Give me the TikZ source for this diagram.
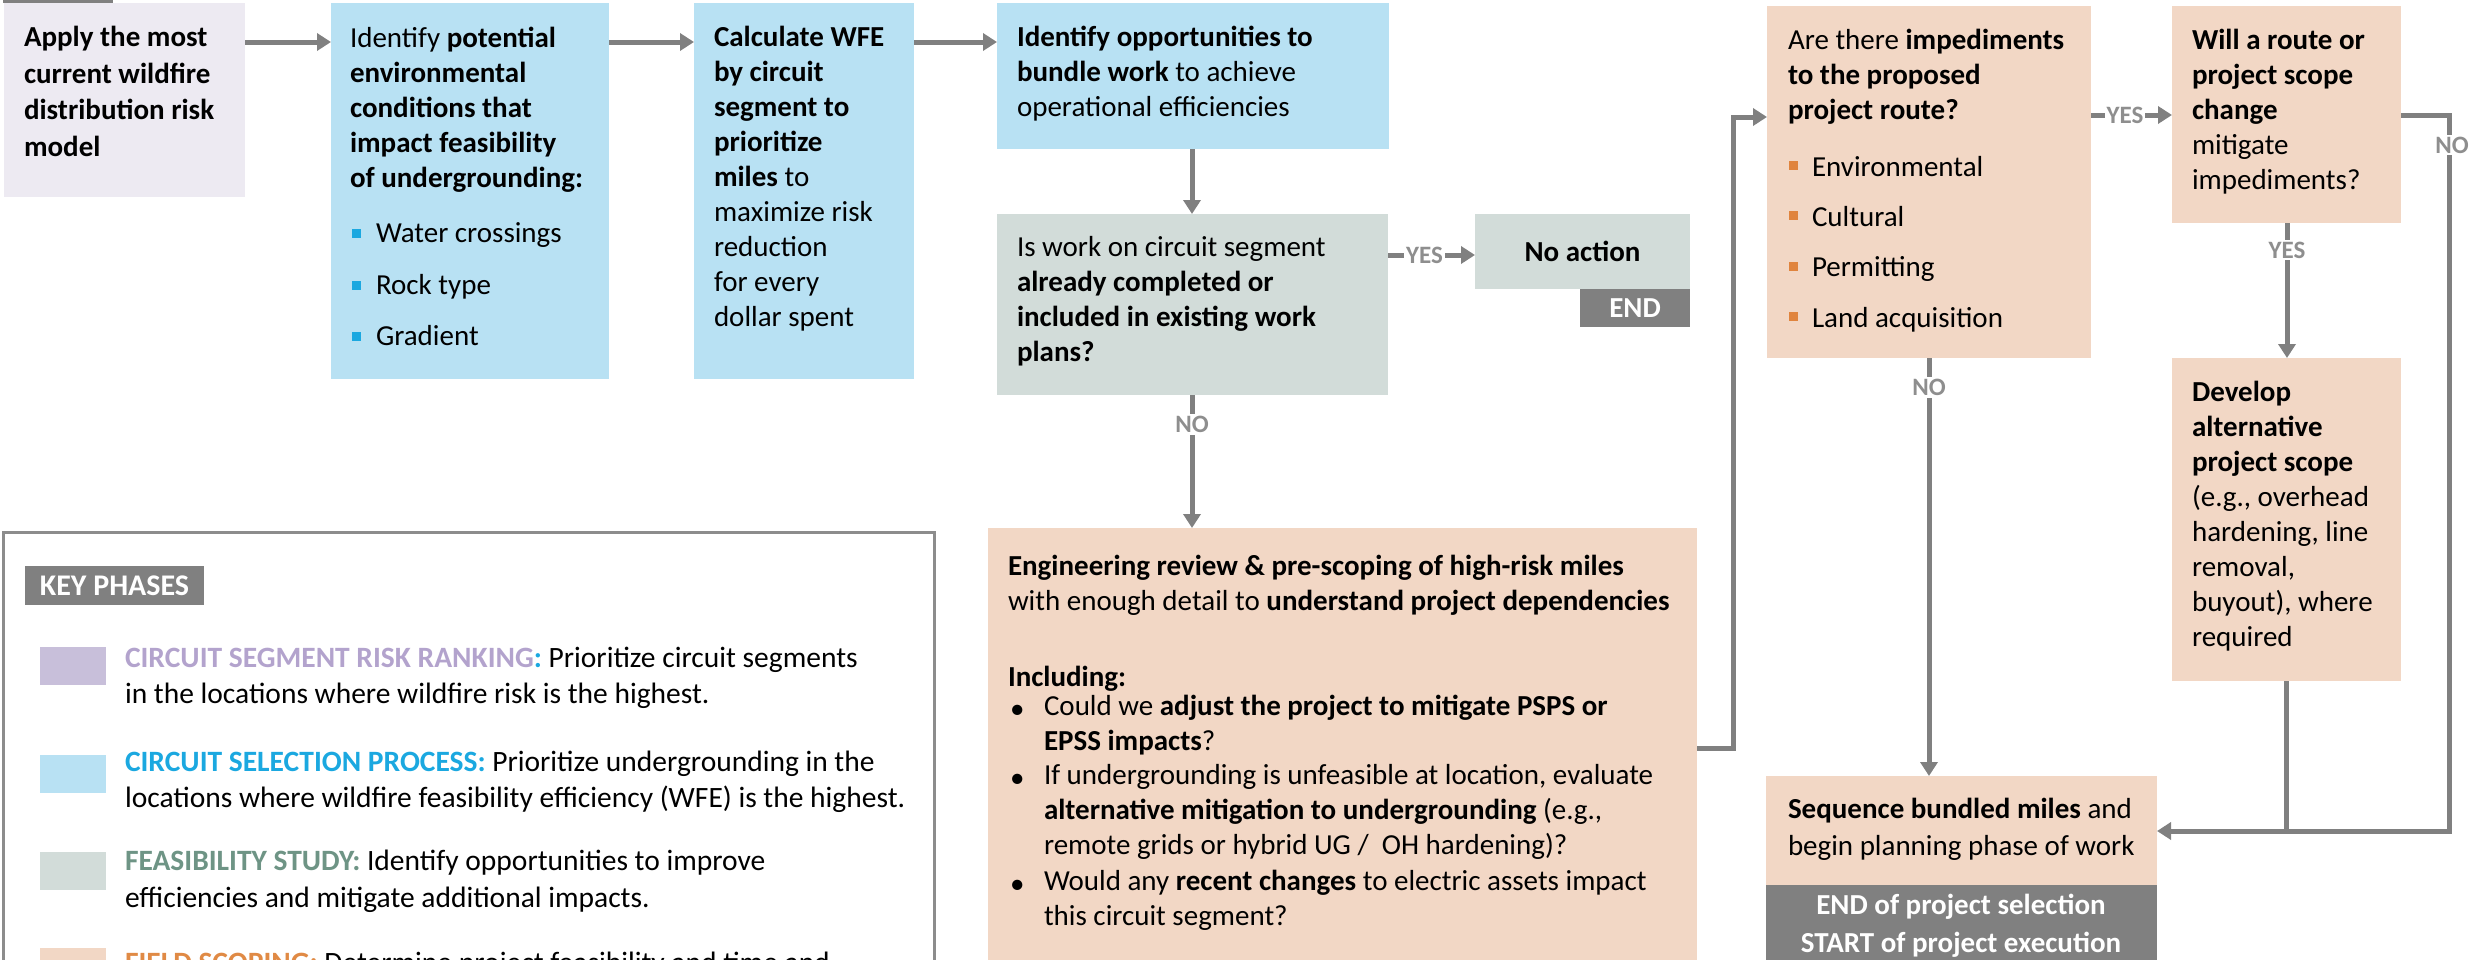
\documentclass[tikz,border=0pt]{standalone}
\usepackage{fontspec}
\setmainfont{Carlito}
\usetikzlibrary{arrows.meta,calc}
\definecolor{lavfill}{HTML}{EDEAF2}
\definecolor{bluefill}{HTML}{B8E1F3}
\definecolor{grayfill}{HTML}{D2DCD9}
\definecolor{orfill}{HTML}{F2D7C5}
\definecolor{darkg}{HTML}{808080}
\definecolor{lblgray}{HTML}{8E8E8E}
\definecolor{legbord}{HTML}{8C8C8C}
\definecolor{lavsw}{HTML}{C8BFDA}
\definecolor{lavt}{HTML}{B3A3CD}
\definecolor{bluet}{HTML}{1BA8E0}
\definecolor{greent}{HTML}{6E9485}
\definecolor{oranget}{HTML}{E08A45}
\definecolor{bulor}{HTML}{E0843E}
\newcommand{\myfs}{\fontsize{29}{35}\selectfont}
\tikzset{
  boxn/.style={anchor=north west, inner sep=0pt, outer sep=0pt, draw=none},
  txt/.style={anchor=base west, inner sep=0pt, outer sep=0pt, align=left, font=\myfs},
  mtxt/.style={anchor=north west, inner sep=0pt, outer sep=0pt, align=left, font=\myfs, execute at begin node=\strut},
  arr/.style={draw=darkg, line width=5pt, -{Triangle[length=14pt,width=17pt]}},
  ln/.style={draw=darkg, line width=5pt},
  lbl/.style={fill=white, text=lblgray, font=\bfseries\fontsize{25}{25}\selectfont, inner sep=2pt},
  sq/.style={inner sep=0pt, outer sep=0pt, minimum size=9pt},
  swatch/.style={anchor=north west, inner sep=0pt, outer sep=0pt, minimum width=66pt, minimum height=38pt},
}
\begin{document}
\begin{tikzpicture}[x=1pt,y=-1pt]
\useasboundingbox (0,0) rectangle (2471,959);
\clip (0,0) rectangle (2471,959);

% ---------- boxes ----------
\node[boxn, fill=darkg, minimum width=110pt, minimum height=23pt] (toptag) at (3,-20) {};
\node[boxn, fill=lavfill, minimum width=241pt, minimum height=194pt] (b1) at (4,3) {};
\node[boxn, fill=bluefill, minimum width=278pt, minimum height=376pt] (b2) at (331,3) {};
\node[boxn, fill=bluefill, minimum width=220pt, minimum height=376pt] (b3) at (694,3) {};
\node[boxn, fill=bluefill, minimum width=392pt, minimum height=146pt] (b4) at (997,3) {};
\node[boxn, fill=grayfill, minimum width=391pt, minimum height=181pt] (feas) at (997,214) {};
\node[boxn, fill=grayfill, minimum width=215pt, minimum height=75pt, font=\bfseries\myfs] (noact) at (1475,214) {No action};
\node[boxn, fill=darkg, minimum width=110pt, minimum height=38pt, text=white, font=\bfseries\myfs] (endtag) at (1580,289) {END};
\node[boxn, fill=orfill, minimum width=324pt, minimum height=352pt] (imped) at (1767,6) {};
\node[boxn, fill=orfill, minimum width=229pt, minimum height=217pt] (will) at (2172,6) {};
\node[boxn, fill=orfill, minimum width=229pt, minimum height=323pt] (develop) at (2172,358) {};
\node[boxn, fill=orfill, minimum width=709pt, minimum height=460pt] (eng) at (988,528) {};
\node[boxn, fill=orfill, minimum width=391pt, minimum height=109pt] (seq) at (1766,776) {};
\node[boxn, fill=darkg, minimum width=391pt, minimum height=100pt] (endsel) at (1766,885) {};

% ---------- texts ----------
\node[mtxt, font=\bfseries\fontsize{29}{36.5}\selectfont] (t1) at (24,26.5) {Apply the most\\current wildfire\\distribution risk\\model};
\node[mtxt] (t2) at (350,27.5) {Identify \textbf{potential}\\\textbf{environmental}\\\textbf{conditions that}\\\textbf{impact feasibility}\\\textbf{of undergrounding:}};
\node[sq, fill=bluet] (bq1) at (356.5,233.5) {};
\node[sq, fill=bluet] (bq2) at (356.5,285.5) {};
\node[sq, fill=bluet] (bq3) at (356.5,336.5) {};
\node[txt] (t2a) at (376,242) {Water crossings};
\node[txt] (t2b) at (376,294) {Rock type};
\node[txt] (t2c) at (376,345) {Gradient};

\node[mtxt] (t3) at (714,26.5) {\textbf{Calculate WFE}\\\textbf{by circuit}\\\textbf{segment to}\\\textbf{prioritize}\\\textbf{miles} to\\maximize risk\\reduction\\for every\\dollar spent};
\node[mtxt] (t4) at (1017,26.5) {\textbf{Identify opportunities to}\\\textbf{bundle work} to achieve\\operational efficiencies};
\node[mtxt] (t5) at (1017,236.5) {Is work on circuit segment\\\textbf{already completed or}\\\textbf{included in existing work}\\\textbf{plans?}};

\node[mtxt] (t8) at (1788,29.5) {Are there \textbf{impediments}\\\textbf{to the proposed}\\\textbf{project route?}};
\node[sq, fill=bulor] (oq1) at (1793,165.5) {};
\node[sq, fill=bulor] (oq2) at (1793,215.8) {};
\node[sq, fill=bulor] (oq3) at (1793,266) {};
\node[sq, fill=bulor] (oq4) at (1793,316.5) {};
\node[txt] (t8a) at (1812,176) {Environmental};
\node[txt] (t8b) at (1812,226) {Cultural};
\node[txt] (t8c) at (1812,276) {Permitting};
\node[txt] (t8d) at (1812,327) {Land acquisition};

\node[mtxt] (t9) at (2192,29.5) {\textbf{Will a route or}\\\textbf{project scope}\\\textbf{change}\\mitigate\\impediments?};
\node[mtxt] (t10) at (2192,381.5) {\textbf{Develop}\\\textbf{alternative}\\\textbf{project scope}\\(e.g., overhead\\hardening, line\\removal,\\buyout), where\\required};

\node[mtxt] (t11) at (1008,555.5) {\textbf{Engineering review \& pre-scoping of high-risk miles}\\with enough detail to \textbf{understand project dependencies}};
\node[txt] (t12) at (1008,686) {\textbf{Including:}};
\node[txt] (eb1) at (1010,718) {•};
\node[txt] (eb2) at (1010,787) {•};
\node[txt] (eb3) at (1010,893) {•};
\node[mtxt] (t13) at (1044,695.5) {Could we \textbf{adjust the project to mitigate PSPS or}\\\textbf{EPSS impacts}?};
\node[mtxt] (t14) at (1044,764.5) {If undergrounding is unfeasible at location, evaluate\\\textbf{alternative mitigation to undergrounding} (e.g.,\\remote grids or hybrid UG /\ \ OH hardening)?};
\node[mtxt] (t15) at (1044,870.5) {Would any \textbf{recent changes} to electric assets impact\\this circuit segment?};

\node[mtxt, font=\fontsize{29}{37}\selectfont] (t16) at (1788,798) {\textbf{Sequence bundled miles} and\\begin planning phase of work};
\node[anchor=north, inner sep=0pt, align=center, text=white, font=\bfseries\fontsize{29}{38}\selectfont, execute at begin node=\strut] (t17) at (1961,894) {END of project selection\\START of project execution};

% ---------- legend ----------
\node[boxn, draw=legbord, line width=3pt, minimum width=931pt, minimum height=520pt] (legend) at (3,532) {};
\node[boxn, fill=darkg, minimum width=179pt, minimum height=39pt, text=white, font=\bfseries\fontsize{30}{30}\selectfont] (keyph) at (25,566) {KEY PHASES};
\node[swatch, fill=lavsw] (sw1) at (40,647) {};
\node[swatch, fill=bluefill] (sw2) at (40,755) {};
\node[swatch, fill=grayfill] (sw3) at (40,852) {};
\node[swatch, fill=orfill] (sw4) at (40,948) {};
\node[mtxt, font=\fontsize{29.5}{36}\selectfont] (lg1) at (125,646.8) {\textbf{\color{lavt}CIRCUIT SEGMENT RISK RANKING\color{bluet}:} Prioritize circuit segments\\in the locations where wildfire risk is the highest.};
\node[mtxt, font=\fontsize{29.5}{36}\selectfont] (lg2) at (125,750.8) {\textbf{\color{bluet}CIRCUIT SELECTION PROCESS:} Prioritize undergrounding in the\\locations where wildfire feasibility efficiency (WFE) is the highest.};
\node[mtxt, font=\fontsize{29.5}{37}\selectfont] (lg3) at (125,850.1) {\textbf{\color{greent}FEASIBILITY STUDY:} Identify opportunities to improve\\efficiencies and mitigate additional impacts.};
\node[txt, font=\fontsize{29.5}{36}\selectfont] (lg4) at (125,972) {\textbf{\color{oranget}FIELD SCOPING:} Determine project feasibility and time and};

% ---------- connectors ----------
\draw[arr] ($(b1.north east)+(0,39)$) -- ($(b2.north west)+(0,39)$);
\draw[arr] ($(b2.north east)+(0,39)$) -- ($(b3.north west)+(0,39)$);
\draw[arr] ($(b3.north east)+(0,39)$) -- ($(b4.north west)+(0,39)$);
\draw[arr] ($(b4.south west)+(195,0)$) -- ($(feas.north west)+(195,0)$);
\draw[arr] ($(feas.north east)+(0,41)$) -- node[lbl, pos=0.42] (yes1) {YES} ($(noact.north west)+(0,41)$);
\draw[arr] ($(feas.south west)+(195,0)$) -- node[lbl, pos=0.22] (no1) {NO} ($(eng.north west)+(204,0)$);
\draw[arr] ($(eng.north east)+(0,220)$) -- ++(36,0) |- ($(imped.north west)+(0,111)$);
\draw[arr] ($(imped.north east)+(0,109)$) -- node[lbl, pos=0.42] (yes2) {YES} ($(will.north west)+(0,109)$);
\draw[arr] ($(will.south west)+(115,0)$) -- node[lbl, pos=0.2] (yes3) {YES} ($(develop.north west)+(115,0)$);
\draw[arr] ($(imped.south west)+(162,0)$) -- node[lbl, pos=0.07] (no2) {NO} ($(seq.north west)+(163,0)$);
\draw[ln] (develop.south) -- ($(develop.south)+(0,152)$) coordinate (join);
\draw[arr] ($(will.north east)+(0,109)$) -- ++(48,0) coordinate (nc) |- ($(seq.north east)+(0,55)$);
\node[lbl] (no3) at ($(nc)+(3,30)$) {NO};
\end{tikzpicture}
\end{document}
